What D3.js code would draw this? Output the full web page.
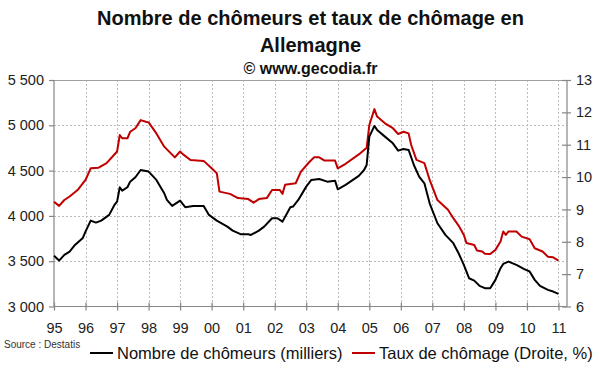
<!DOCTYPE html>
<html><head><meta charset="utf-8">
<script src="https://cdn.jsdelivr.net/npm/d3@7/dist/d3.min.js"></script>
<style>body{margin:0;background:#fff}svg{display:block;font-family:"Liberation Sans",Arial,sans-serif}</style>
</head><body><svg id="c" width="600" height="372"></svg>
<script>
// ---- data ----
const chomeursDates = ["1995-01","1995-03","1995-05","1995-07","1995-09","1995-12","1996-01","1996-03","1996-05","1996-07","1996-10","1996-12","1997-01","1997-02","1997-03","1997-05","1997-06","1997-08","1997-10","1998-01","1998-04","1998-07","1998-08","1998-10","1999-01","1999-03","1999-06","1999-10","1999-12","2000-03","2000-07","2000-09","2000-12","2001-03","2001-04","2001-07","2001-09","2001-12","2002-02","2002-04","2002-07","2002-08","2002-10","2003-01","2003-03","2003-06","2003-09","2003-12","2004-01","2004-04","2004-09","2004-11","2004-12","2005-01","2005-03","2005-04","2005-07","2005-10","2005-12","2006-02","2006-04","2006-06","2006-08","2006-10","2006-12","2007-03","2007-06","2007-09","2007-11","2008-01","2008-03","2008-05","2008-07","2008-09","2008-11","2009-01","2009-03","2009-04","2009-06","2009-09","2009-12","2010-02","2010-04","2010-06","2010-09","2010-11","2011-01"];
const chomeursValues = [3559,3507,3570,3606,3680,3757,3827,3948,3926,3948,4011,4121,4158,4316,4279,4316,4378,4427,4507,4489,4397,4250,4176,4110,4169,4096,4110,4110,4011,3948,3882,3837,3798,3798,3790,3837,3882,3974,3974,3937,4096,4103,4176,4323,4397,4408,4378,4389,4294,4342,4441,4507,4562,4875,4993,4949,4875,4801,4720,4739,4728,4562,4433,4360,4139,3919,3790,3699,3588,3459,3312,3286,3228,3202,3202,3294,3423,3470,3496,3459,3412,3386,3294,3228,3184,3165,3140];
const tauxDates = ["1995-01","1995-03","1995-05","1995-07","1995-10","1996-01","1996-03","1996-06","1996-09","1997-01","1997-02","1997-03","1997-05","1997-06","1997-08","1997-10","1997-12","1998-01","1998-04","1998-07","1998-11","1999-01","1999-02","1999-05","1999-10","2000-01","2000-03","2000-04","2000-08","2000-11","2001-03","2001-05","2001-07","2001-10","2001-12","2002-03","2002-04","2002-05","2002-09","2002-11","2003-02","2003-04","2003-06","2003-08","2003-12","2004-01","2004-04","2004-09","2004-11","2004-12","2005-01","2005-03","2005-04","2005-07","2005-10","2005-12","2006-02","2006-04","2006-05","2006-07","2006-10","2006-12","2007-03","2007-07","2007-09","2007-11","2008-01","2008-02","2008-05","2008-06","2008-08","2008-09","2008-11","2009-01","2009-03","2009-04","2009-05","2009-06","2009-09","2009-11","2010-02","2010-04","2010-07","2010-09","2010-11","2011-01"];
const tauxValues = [9.24,9.11,9.29,9.40,9.60,9.91,10.27,10.29,10.43,10.79,11.30,11.20,11.20,11.40,11.51,11.76,11.71,11.69,11.35,10.94,10.61,10.79,10.71,10.53,10.50,10.27,10.12,9.55,9.48,9.35,9.32,9.21,9.32,9.35,9.60,9.60,9.48,9.76,9.81,10.17,10.45,10.61,10.61,10.51,10.51,10.27,10.41,10.70,10.84,10.90,11.61,12.10,11.87,11.66,11.51,11.33,11.40,11.35,10.99,10.53,10.43,9.91,9.29,8.99,8.73,8.50,8.21,7.96,7.90,7.73,7.70,7.63,7.62,7.75,8.01,8.32,8.21,8.32,8.32,8.16,8.08,7.80,7.70,7.54,7.52,7.42];
const xTickYears = [1995,1996,1997,1998,1999,2000,2001,2002,2003,2004,2005,2006,2007,2008,2009,2010,2011];
const xTickLabels = ["95","96","97","98","99","00","01","02","03","04","05","06","07","08","09","10","11"];
const leftTicks = [3000,3500,4000,4500,5000,5500];
const leftTickLabels = ["3 000","3 500","4 000","4 500","5 000","5 500"];
const rightTicks = [6,7,8,9,10,11,12,13];
const titleLines = ["Nombre de chômeurs et taux de chômage en","Allemagne"];
const subtitle = "© www.gecodia.fr";
const sourceText = "Source : Destatis";
const seriesNames = ["Nombre de chômeurs (milliers)","Taux de chômage (Droite, %)"];
const seriesColors = ["#000000","#c00000"];

// ---- layout ----
const L = 54, R = 567, T = 80, B = 306.5;
const parse = d3.timeParse("%Y-%m");
const svg = d3.select("#c");
const x = d3.scaleTime().domain([new Date(1995,0,1), new Date(2011,3,10)]).range([L,R]);
const yL = d3.scaleLinear().domain([3000,5500]).range([B,T]);
const yR = d3.scaleLinear().domain([6,13]).range([B,T]);
const axisColor = "#868686";

// grid
const grid = svg.append("g");
grid.selectAll(".hg").data(leftTicks.filter(v=>v>3000 && v<5500)).join("line")
  .attr("x1",L).attr("x2",R).attr("y1",d=>Math.round(yL(d))+0.5).attr("y2",d=>Math.round(yL(d))+0.5)
  .attr("stroke","#bdbdbd").attr("stroke-width",1).attr("stroke-dasharray","2,2");
grid.selectAll(".vg").data(xTickYears.slice(1)).join("line")
  .attr("x1",d=>Math.round(x(new Date(d,0,1)))+0.5).attr("x2",d=>Math.round(x(new Date(d,0,1)))+0.5)
  .attr("y1",T).attr("y2",B)
  .attr("stroke","#bdbdbd").attr("stroke-width",1).attr("stroke-dasharray","2,2");
svg.append("line").attr("x1",L).attr("x2",R).attr("y1",T+0.5).attr("y2",T+0.5).attr("stroke","#a0a0a0");

// axes
const fs = "14.5px";
const gL = svg.append("g").attr("transform",`translate(${L},0)`)
  .call(d3.axisLeft(yL).tickValues(leftTicks).tickFormat((d,i)=>leftTickLabels[i]).tickSize(5).tickPadding(5));
const gR = svg.append("g").attr("transform",`translate(${R},0)`)
  .call(d3.axisRight(yR).tickValues(rightTicks).tickFormat(d3.format("d")).tickSize(4).tickPadding(5));
gR.selectAll(".tick line").attr("x1",-5);
const gB = svg.append("g").attr("transform",`translate(0,${B})`)
  .call(d3.axisBottom(x).tickValues(xTickYears.map(y=>new Date(y,0,1))).tickFormat((d,i)=>xTickLabels[i]).tickSize(4).tickPadding(12));
gB.selectAll(".tick line").attr("y1",-4);
[gL,gR,gB].forEach(g=>{
  g.select(".domain").attr("stroke",axisColor).attr("stroke-width",1.2);
  g.selectAll(".tick line").attr("stroke",axisColor).attr("stroke-width",1.2);
  g.selectAll(".tick text").attr("fill","#222").style("font-size",fs).style("font-family","Liberation Sans, Arial, sans-serif");
});
gL.select(".domain").attr("d",`M0,${T}V${B}`);
gR.select(".domain").attr("d",`M0,${T}V${B}`);
gB.select(".domain").attr("d",`M${L},0H${R}`);

// lines
const lineL = d3.line().x((d,i)=>x(parse(chomeursDates[i]))).y(d=>yL(d)).curve(d3.curveLinear);
const lineR = d3.line().x((d,i)=>x(parse(tauxDates[i]))).y(d=>yR(d)).curve(d3.curveLinear);
svg.append("path").datum(tauxValues).attr("d",lineR).attr("fill","none").attr("stroke",seriesColors[1]).attr("stroke-width",2).attr("stroke-linejoin","round");
svg.append("path").datum(chomeursValues).attr("d",lineL).attr("fill","none").attr("stroke",seriesColors[0]).attr("stroke-width",2).attr("stroke-linejoin","round");

// title
const tx = (L+R)/2;
svg.append("text").attr("x",tx).attr("y",25).attr("text-anchor","middle").style("font-weight","bold").style("font-size","20px").attr("fill","#111").text(titleLines[0]);
svg.append("text").attr("x",tx).attr("y",52).attr("text-anchor","middle").style("font-weight","bold").style("font-size","20px").attr("fill","#111").text(titleLines[1]);
svg.append("text").attr("x",tx).attr("y",74).attr("text-anchor","middle").style("font-weight","bold").style("font-size","16px").attr("fill","#111").text(subtitle);

// source
svg.append("text").attr("x",4).attr("y",348).style("font-size","10px").attr("fill","#333").text(sourceText);

// legend
const lg = svg.append("g");
const legX = [90, 352];
seriesNames.forEach((n,i)=>{
  lg.append("line").attr("x1",legX[i]).attr("x2",legX[i]+23).attr("y1",353).attr("y2",353).attr("stroke",seriesColors[i]).attr("stroke-width",2);
  lg.append("text").attr("x",legX[i]+27).attr("y",359).style("font-size","16.5px").attr("fill","#111").text(n);
});
</script></body></html>
